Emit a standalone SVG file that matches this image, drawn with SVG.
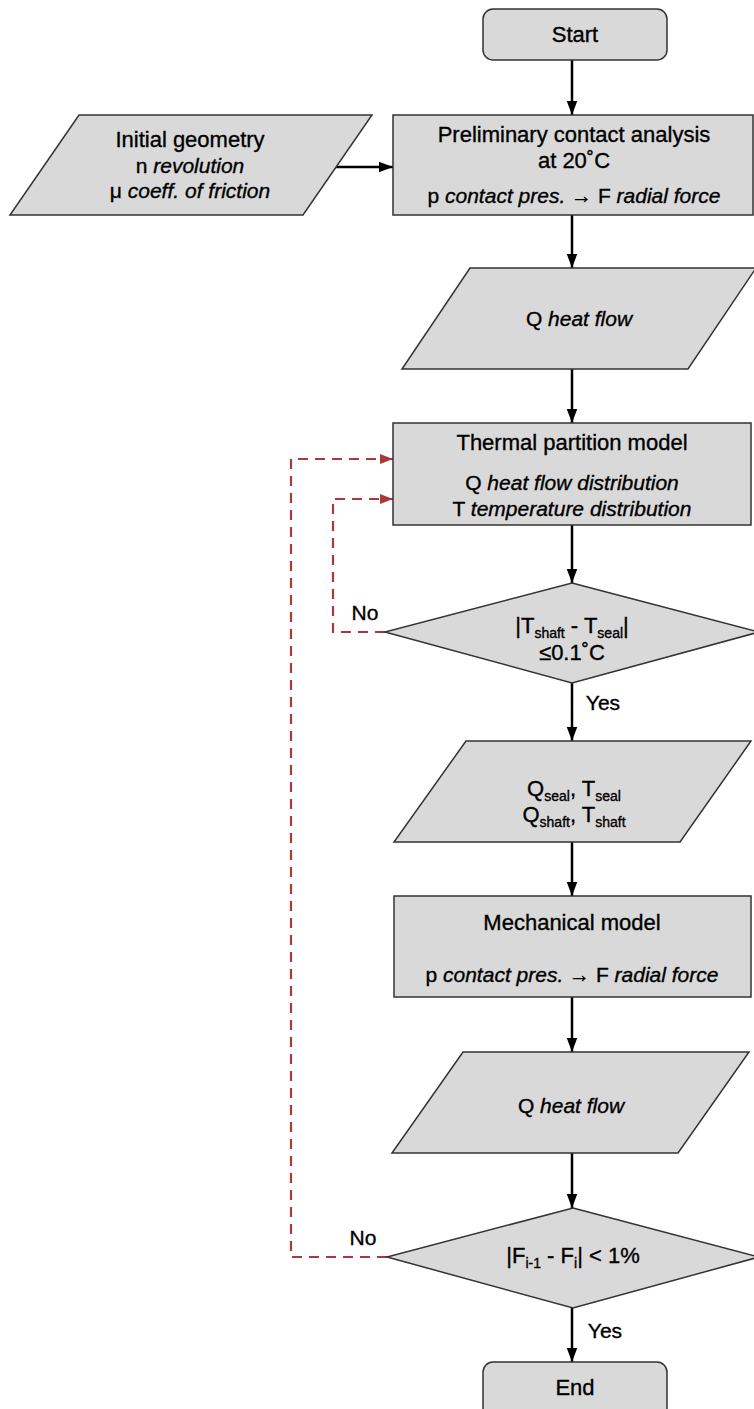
<svg xmlns="http://www.w3.org/2000/svg" width="754" height="1409" viewBox="0 0 754 1409">
<defs>
<style>
.n{fill:#d9d9d9;stroke:#333;stroke-width:1.5}
.t{font-family:"Liberation Sans",Arial,sans-serif;font-size:21px;fill:#000;stroke:#000;stroke-width:0.35;text-anchor:middle}
.h{font-size:22px}
.i{font-style:italic}
.s{font-size:14px}
.c{fill:none;stroke:#000;stroke-width:2.5}
.r{fill:none;stroke:#a83a3a;stroke-width:2.2;stroke-dasharray:10 7}
</style>
<marker id="a" markerUnits="userSpaceOnUse" markerWidth="14" markerHeight="18" refX="16" refY="6" viewBox="0 0 16 12" orient="auto"><path d="M0,0 L16,6 L0,12 Z" fill="#000"/></marker>
<marker id="ar" markerUnits="userSpaceOnUse" markerWidth="13" markerHeight="11" refX="13" refY="5" viewBox="0 0 13 10" orient="auto"><path d="M0,0 L13,5 L0,10 Z" fill="#a83a3a"/></marker>
</defs>
<g id="connectors">
<line class="c" x1="572" y1="60" x2="572" y2="115" marker-end="url(#a)"/>
<line class="c" x1="335" y1="167" x2="393" y2="167" marker-end="url(#a)"/>
<line class="c" x1="572" y1="215" x2="572" y2="268" marker-end="url(#a)"/>
<line class="c" x1="572" y1="369" x2="572" y2="423" marker-end="url(#a)"/>
<line class="c" x1="572" y1="525" x2="572" y2="583" marker-end="url(#a)"/>
<line class="c" x1="572" y1="683" x2="572" y2="741" marker-end="url(#a)"/>
<line class="c" x1="572" y1="842" x2="572" y2="896" marker-end="url(#a)"/>
<line class="c" x1="572" y1="997" x2="572" y2="1052" marker-end="url(#a)"/>
<line class="c" x1="572" y1="1153" x2="572" y2="1208" marker-end="url(#a)"/>
<line class="c" x1="572" y1="1308" x2="572" y2="1362" marker-end="url(#a)"/>
<polyline class="r" points="385,632 333,632 333,499 393,499" marker-end="url(#ar)"/>
<polyline class="r" points="387,1257 291,1257 291,459 393,459" marker-end="url(#ar)"/>
<text class="t" x="365" y="620">No</text>
<text class="t" x="363" y="1245">No</text>
<text class="t" x="603" y="710">Yes</text>
<text class="t" x="605" y="1338">Yes</text>
</g>
<g id="start">
<rect class="n" x="483" y="9" width="184" height="51" rx="10"/>
<text class="t h" x="575" y="42">Start</text>
</g>
<g id="initial">
<polygon class="n" points="79,115 372,115 303,215 10,215"/>
<text class="t h" x="190" y="147">Initial geometry</text>
<text class="t" x="190" y="173">n <tspan class="i">revolution</tspan></text>
<text class="t" x="190" y="198">μ <tspan class="i">coeff. of friction</tspan></text>
</g>
<g id="prelim">
<rect class="n" x="393" y="115" width="360" height="100"/>
<text class="t h" x="574" y="142">Preliminary contact analysis</text>
<text class="t h" x="574" y="168">at 20˚C</text>
<text class="t" x="574" y="203">p <tspan class="i">contact pres.</tspan> → F <tspan class="i">radial force</tspan></text>
</g>
<g id="heat1">
<polygon class="n" points="470,268 756,268 688,369 402,369"/>
<text class="t" x="579" y="326">Q <tspan class="i">heat flow</tspan></text>
</g>
<g id="thermal">
<rect class="n" x="393" y="423" width="358" height="102"/>
<text class="t h" x="572" y="450">Thermal partition model</text>
<text class="t" x="572" y="490">Q <tspan class="i">heat flow distribution</tspan></text>
<text class="t" x="572" y="516">T <tspan class="i">temperature distribution</tspan></text>
</g>
<g id="decision1">
<polygon class="n" points="572,583 759,632 572,683 385,632"/>
<text class="t h" x="572" y="633">|T<tspan class="s" dy="5">shaft</tspan><tspan dy="-5"> - T</tspan><tspan class="s" dy="5">seal</tspan><tspan dy="-5">|</tspan></text>
<text class="t h" x="572" y="660">≤0.1˚C</text>
</g>
<g id="values">
<polygon class="n" points="466,741 751,741 680,842 394,842"/>
<text class="t h" x="574" y="796">Q<tspan class="s" dy="5">seal</tspan><tspan dy="-5">, T</tspan><tspan class="s" dy="5">seal</tspan></text>
<text class="t h" x="574" y="822">Q<tspan class="s" dy="5">shaft</tspan><tspan dy="-5">, T</tspan><tspan class="s" dy="5">shaft</tspan></text>
</g>
<g id="mechanical">
<rect class="n" x="394" y="896" width="357" height="101"/>
<text class="t h" x="572" y="930">Mechanical model</text>
<text class="t" x="572" y="982">p <tspan class="i">contact pres.</tspan> → F <tspan class="i">radial force</tspan></text>
</g>
<g id="heat2">
<polygon class="n" points="463,1052 749,1052 678,1153 392,1153"/>
<text class="t" x="571" y="1113">Q <tspan class="i">heat flow</tspan></text>
</g>
<g id="decision2">
<polygon class="n" points="573,1208 759,1257 573,1308 387,1257"/>
<text class="t h" x="573" y="1263">|F<tspan class="s" dy="5">i-1</tspan><tspan dy="-5"> - F</tspan><tspan class="s" dy="5">i</tspan><tspan dy="-5">| &lt; 1%</tspan></text>
</g>
<g id="end">
<rect class="n" x="483" y="1362" width="184" height="60" rx="10"/>
<text class="t h" x="575" y="1395">End</text>
</g>
</svg>
